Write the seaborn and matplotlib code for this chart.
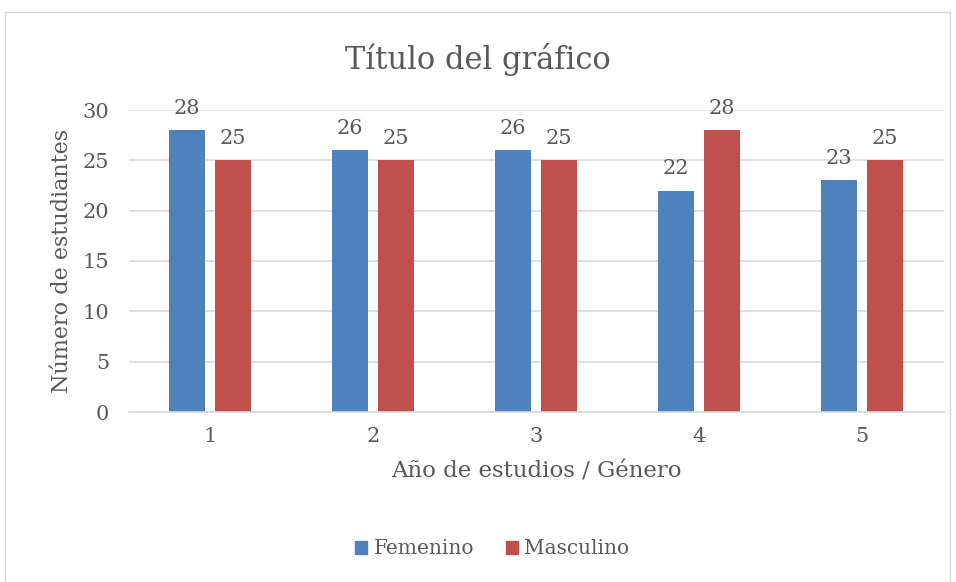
import numpy as np
import pandas as pd
import seaborn as sns
import matplotlib.pyplot as plt
from matplotlib.patches import Rectangle

# data
years = ["1", "2", "3", "4", "5"]
femenino = [28, 26, 26, 22, 23]
masculino = [25, 25, 25, 28, 25]
series_names = ["Femenino", "Masculino"]
colors = ["#4F81BD", "#C0504D"]

df = pd.DataFrame({
    "Año": years * 2,
    "Estudiantes": femenino + masculino,
    "Género": [series_names[0]] * len(years) + [series_names[1]] * len(years),
})

sns.set_style("white")
plt.rcParams["font.family"] = ["DejaVu Serif"]
text_color = "#595959"

fig = plt.figure(figsize=(9.56, 5.82), dpi=100)
ax = fig.add_axes([128.5 / 956, 170 / 582, 815 / 956, 302 / 582])

sns.barplot(data=df, x="Año", y="Estudiantes", hue="Género", palette=colors,
            width=0.57, gap=0.23, ax=ax, legend=False, saturation=1, linewidth=0)

for cont in ax.containers:
    ax.bar_label(cont, padding=9, fontsize=15, color=text_color)

ax.set_ylim(0, 30)
ax.set_yticks(range(0, 31, 5))
ax.set_xlim(-0.5, 4.5)
ax.grid(axis="y", color="#D9D9D9", linewidth=1.2)
ax.set_axisbelow(True)
for s in ["top", "right", "left"]:
    ax.spines[s].set_visible(False)
ax.spines["bottom"].set_color("#D9D9D9")
ax.spines["bottom"].set_linewidth(1.2)
ax.tick_params(axis="both", length=0, labelsize=15, labelcolor=text_color)
ax.tick_params(axis="y", pad=14)
ax.tick_params(axis="x", pad=11)
ax.set_xlabel("Año de estudios / Género", fontsize=16.5, color=text_color, labelpad=10)
ax.set_ylabel("Número de estudiantes", fontsize=16, color=text_color, labelpad=7)

fig.text(0.5, 1 - 60 / 582, "Título del gráfico", ha="center", va="center",
         fontsize=22, color=text_color)

handles = [Rectangle((0, 0), 1, 1, color=c) for c in colors]
fig.legend(handles, series_names, loc="center", bbox_to_anchor=(0.515, 33 / 582),
           ncol=2, frameon=False, fontsize=14.5, handlelength=0.6, handleheight=0.6,
           handletextpad=0.3, columnspacing=1.6, labelcolor=text_color)

# outer chart frame
fig.patches.append(Rectangle((5 / 956, -0.05), 945 / 956, 1.05 - 12 / 582,
                             transform=fig.transFigure, fill=False,
                             edgecolor="#D9D9D9", linewidth=1))

fig.savefig("out.png", dpi=100)
